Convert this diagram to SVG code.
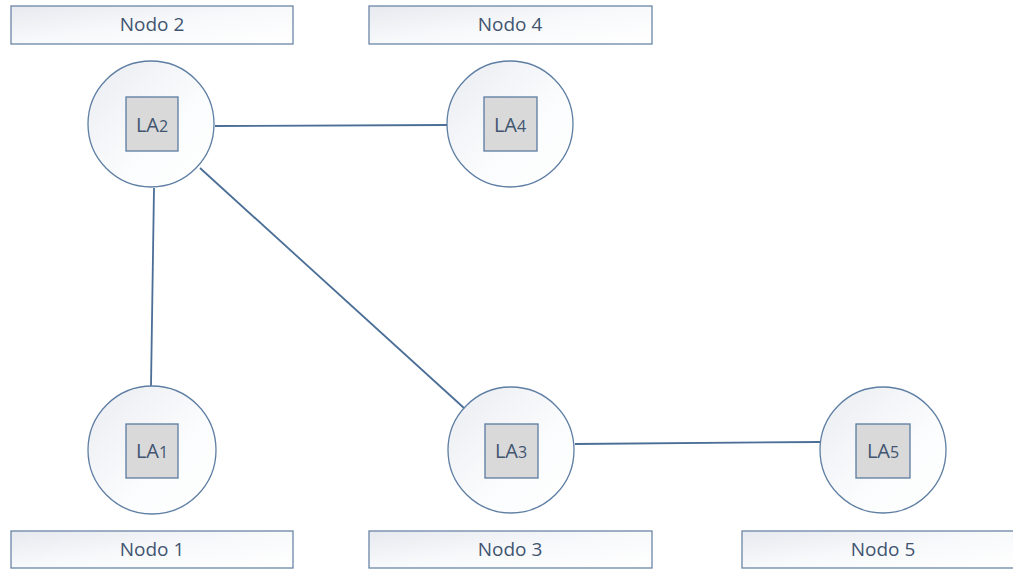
<svg xmlns="http://www.w3.org/2000/svg" width="1013" height="569" viewBox="0 0 1013 569">
  <defs>
    <linearGradient id="boxFill" x1="0" y1="0" x2="1" y2="1">
      <stop offset="0" stop-color="#E6E9EF"/>
      <stop offset="0.5" stop-color="#F8F9FB"/>
      <stop offset="1" stop-color="#FFFFFF"/>
    </linearGradient>
    <linearGradient id="circleFill" x1="0" y1="0" x2="1" y2="1">
      <stop offset="0" stop-color="#E9ECF1"/>
      <stop offset="0.6" stop-color="#FBFCFD"/>
      <stop offset="1" stop-color="#FFFFFF"/>
    </linearGradient>
    <style>
      .label-box { fill: url(#boxFill); stroke: #6B86A6; stroke-width: 1.3; }
      .ring { fill: url(#circleFill); stroke: #5E7EA3; stroke-width: 1.3; }
      .la { fill: #D9D9D9; stroke: #5B7BA0; stroke-width: 1.3; }
      .link { stroke: #4A6E96; stroke-width: 1.8; fill: none; }
      .txt { font-family: "Open Sans", "Liberation Sans", sans-serif; fill: #415470; text-anchor: middle; }
      .name { font-size: 19px; }
      .la-txt { font-size: 20px; }
      .sub { font-size: 16px; }
    </style>
  </defs>

  <rect width="1013" height="569" fill="#FFFFFF"/>

  <!-- connectors -->
  <g id="connectors">
    <line class="link" x1="215" y1="126" x2="447" y2="125"/>
    <line class="link" x1="154" y1="188" x2="151" y2="386"/>
    <line class="link" x1="200" y1="168" x2="464" y2="408"/>
    <line class="link" x1="575" y1="444" x2="820" y2="442"/>
  </g>

  <g id="nodo2">
    <rect class="label-box" x="11" y="6" width="282" height="38"/>
    <text class="txt name" x="152" y="31">Nodo 2</text>
    <circle class="ring" cx="151" cy="124" r="63"/>
    <rect class="la" x="126" y="97" width="52" height="54"/>
    <text class="txt la-txt" x="152" y="132">LA<tspan class="sub">2</tspan></text>
  </g>

  <g id="nodo4">
    <rect class="label-box" x="369" y="6" width="283" height="38"/>
    <text class="txt name" x="510" y="31">Nodo 4</text>
    <circle class="ring" cx="510" cy="124" r="63"/>
    <rect class="la" x="484" y="97" width="53" height="54"/>
    <text class="txt la-txt" x="510" y="132">LA<tspan class="sub">4</tspan></text>
  </g>

  <g id="nodo1">
    <circle class="ring" cx="152" cy="450" r="64"/>
    <rect class="la" x="126" y="424" width="52" height="54"/>
    <text class="txt la-txt" x="152" y="458">LA<tspan class="sub">1</tspan></text>
    <rect class="label-box" x="11" y="531" width="282" height="37"/>
    <text class="txt name" x="152" y="556">Nodo 1</text>
  </g>

  <g id="nodo3">
    <circle class="ring" cx="511" cy="450" r="63"/>
    <rect class="la" x="485" y="424" width="53" height="54"/>
    <text class="txt la-txt" x="511" y="458">LA<tspan class="sub">3</tspan></text>
    <rect class="label-box" x="369" y="531" width="283" height="37"/>
    <text class="txt name" x="510" y="556">Nodo 3</text>
  </g>

  <g id="nodo5">
    <circle class="ring" cx="883" cy="450" r="63"/>
    <rect class="la" x="856" y="424" width="54" height="54"/>
    <text class="txt la-txt" x="883" y="458">LA<tspan class="sub">5</tspan></text>
    <rect class="label-box" x="742" y="531" width="280" height="37"/>
    <text class="txt name" x="883" y="556">Nodo 5</text>
  </g>
</svg>
